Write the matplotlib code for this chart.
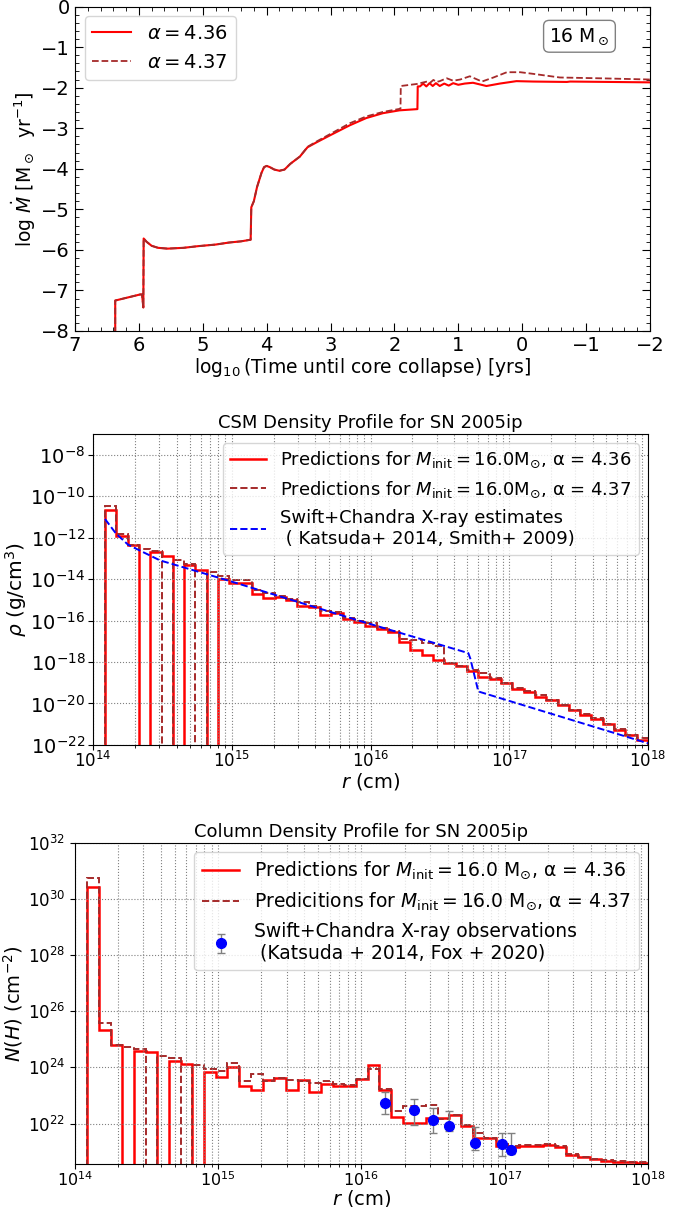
import numpy as np
import matplotlib.pyplot as plt
from matplotlib.ticker import MultipleLocator, NullLocator

# mass-loss history: log10(time until core collapse / yr) vs log10(Mdot)
t_436 = [6.37, 6.37, 5.98, 5.95, 5.93, 5.925, 5.88, 5.80, 5.70, 5.55, 5.30, 5.08, 4.80,
         4.59, 4.40, 4.25, 4.24, 4.20, 4.15, 4.08, 4.04, 4.00, 3.95, 3.88, 3.80, 3.72,
         3.63, 3.48, 3.36, 3.22, 3.00, 2.70, 2.44, 2.18, 1.92, 1.64, 1.635, 1.60, 1.55,
         1.50, 1.45, 1.40, 1.35, 1.29, 1.22, 1.15, 1.08, 1.00, 0.90, 0.77, 0.56, 0.35,
         0.09, -0.17, -0.70, -0.75, -2.00]
mdot_436 = [-8.30, -7.25, -7.10, -7.10, -7.42, -5.72, -5.80, -5.90, -5.95, -5.97, -5.95,
            -5.91, -5.87, -5.82, -5.79, -5.75, -4.95, -4.80, -4.45, -4.10, -3.96, -3.93,
            -3.96, -4.02, -4.05, -4.02, -3.88, -3.70, -3.47, -3.35, -3.17, -2.93, -2.75,
            -2.63, -2.56, -2.53, -1.97, -1.97, -1.90, -1.97, -1.89, -1.96, -1.89, -1.96,
            -1.90, -1.95, -1.89, -1.93, -1.90, -1.88, -1.96, -1.90, -1.84, -1.85, -1.86,
            -1.85, -1.87]

t_437 = [6.37, 6.37, 5.98, 5.95, 5.93, 5.925, 5.88, 5.80, 5.70, 5.55, 5.30, 5.08, 4.80,
         4.59, 4.40, 4.25, 4.24, 4.20, 4.15, 4.08, 4.04, 4.00, 3.95, 3.88, 3.80, 3.72,
         3.63, 3.48, 3.36, 3.22, 3.00, 2.70, 2.44, 2.18, 1.905, 1.90, 1.65, 1.49, 1.44,
         1.39, 1.34, 1.29, 1.23, 1.18, 1.08, 0.97, 0.82, 0.63, 0.45, 0.24, 0.03, -0.17,
         -0.59, -1.22, -2.00]
mdot_437 = [-8.30, -7.25, -7.10, -7.10, -7.42, -5.72, -5.80, -5.90, -5.95, -5.97, -5.95,
            -5.91, -5.87, -5.82, -5.79, -5.75, -4.95, -4.80, -4.45, -4.10, -3.96, -3.93,
            -3.96, -4.02, -4.05, -4.02, -3.88, -3.70, -3.46, -3.33, -3.14, -2.88, -2.71,
            -2.60, -2.52, -1.96, -1.91, -1.85, -1.88, -1.81, -1.86, -1.84, -1.80, -1.77,
            -1.83, -1.80, -1.72, -1.85, -1.75, -1.62, -1.62, -1.66, -1.75, -1.77, -1.80]

# shell edges in radius (cm), 48 log-uniform shells
r_edges = np.logspace(np.log10(1.22e14), 18, 49)

# log10 density per shell (g/cm^3); nan marks an empty shell
logrho_436 = [-10.66, -11.94, -12.38, np.nan, -12.70, -12.91, np.nan, -13.31, -13.55, np.nan,
              -14.00, -14.19, -14.19, -14.73, -14.92, -14.87, -15.00, -15.32, -15.35, -15.73,
              -15.65, -15.94, -16.05, -16.26, -16.42, -16.56, -17.05, -17.40, -17.66, -17.88,
              -18.03, -18.19, -18.42, -18.72, -18.80, -19.03, -19.32, -19.44, -19.68, -19.84,
              -20.08, -20.32, -20.56, -20.73, -21.00, -21.29, -21.53, -21.74]
logrho_437 = [-10.50, -11.81, -12.35, -12.55, -12.66, np.nan, -13.07, -13.26, np.nan, -13.68,
              -13.87, -14.06, -14.03, -14.55, -14.68, -14.81, -14.97, -15.11, -15.32, -15.56,
              -15.61, -15.89, -16.02, -16.13, -16.37, -16.50, -16.90, -16.95, -17.10, -17.25,
              -18.03, -18.17, -18.40, -18.55, -18.78, -19.00, -19.27, -19.42, -19.60, -19.82,
              -20.05, -20.30, -20.52, -20.70, -20.97, -21.25, -21.50, -21.68]

# X-ray density estimate
logr_xray = [14.086, 14.165, 14.254, 14.483, 14.964, 15.924, 16.705, 16.72, 16.777, 18.0]
logrho_xray = [-11.10, -11.80, -12.35, -13.10, -14.05, -16.02, -17.57, -17.85, -19.42, -21.92]

# log10 column density per shell (cm^-2)
logNH_436 = [30.44, 25.32, 24.81, np.nan, 24.57, 24.54, np.nan, 24.24, 24.13, np.nan,
             23.82, 23.65, 24.00, 23.35, 23.20, 23.56, 23.64, 23.20, 23.54, 23.14,
             23.42, 23.32, 23.35, 23.58, 24.08, 23.18, 22.23, 22.01, 22.01, 22.19,
             22.19, 22.31, 21.92, 21.48, 21.48, 21.21, 21.18, 21.20, 21.21, 21.24,
             21.18, 20.88, 20.79, 20.73, 20.67, 20.64, 20.62, 20.61]
logNH_437 = [30.74, 25.60, 24.81, 24.71, 24.65, np.nan, 24.42, 24.33, np.nan, 24.07,
             23.95, 23.86, 24.15, 23.50, 23.77, 23.50, 23.62, 23.56, 23.50, 23.46,
             23.50, 23.42, 23.38, 23.58, 23.94, 23.23, 22.43, 22.61, 22.63, 22.67,
             22.15, 22.31, 21.95, 21.65, 21.50, 21.27, 21.21, 21.22, 21.23, 21.26,
             21.20, 20.90, 20.81, 20.75, 20.69, 20.66, 20.63, 20.62]

# observed column densities
logr_obs = [16.164, 16.369, 16.501, 16.611, 16.792, 16.983, 17.044]
logNH_obs = [22.73, 22.49, 22.11, 21.92, 21.32, 21.27, 21.04]
logNH_obs_lo = [22.35, 21.94, 21.68, 21.75, 21.04, 20.85, 20.90]
logNH_obs_hi = [23.11, 22.87, 22.54, 22.43, 21.89, 21.65, 21.65]


def shell_values(logs):
    logs = np.array(logs, dtype=float)
    return np.where(np.isnan(logs), 0.0, 10 ** np.nan_to_num(logs))


fig = plt.figure(figsize=(6.91, 12.07), dpi=100)

# ---------------- mass-loss rate ----------------
ax1 = fig.add_axes([0.1085, 0.7258, 0.8321, 0.2688])
ax1.plot(t_436, mdot_436, color='red', lw=1.5, label=r'$\alpha = 4.36$')
ax1.plot(t_437, mdot_437, color='brown', lw=1.3, ls='--', label=r'$\alpha = 4.37$')
ax1.set_xlim(7, -2)
ax1.set_ylim(-8, 0)
ax1.xaxis.set_minor_locator(MultipleLocator(0.2))
ax1.yaxis.set_minor_locator(MultipleLocator(0.2))
ax1.tick_params(which='both', direction='in', top=True, right=True, labelsize=14)
ax1.tick_params(which='major', length=6)
ax1.tick_params(which='minor', length=3)
ax1.set_xlabel(r'$\log_{10}$(Time until core collapse) [yrs]', fontsize=13.5, labelpad=1)
ax1.set_ylabel(r'$\log\,\dot{M}$ [M$_\odot$  yr$^{-1}$]', fontsize=13.5, labelpad=2)
ax1.legend(loc='upper left', fontsize=14)
ax1.text(0.93, 0.94, r'16 M$_\odot$', transform=ax1.transAxes, ha='right', va='top',
         fontsize=13.5, bbox=dict(boxstyle='round', fc='white', ec='grey'))

# ---------------- CSM density ----------------
ax2 = fig.add_axes([0.1346, 0.3828, 0.8032, 0.2577])
ax2.set_xscale('log')
ax2.set_yscale('log')
ax2.stairs(shell_values(logrho_436), r_edges, baseline=0, color='red', lw=1.8,
           label=r'Predictions for $M_{\rm init} = 16.0{\rm M}_{\odot}$, α = 4.36')
ax2.stairs(shell_values(logrho_437), r_edges, baseline=0, color='brown', lw=1.4, ls='--',
           label=r'Predictions for $M_{\rm init} = 16.0{\rm M}_{\odot}$, α = 4.37')
ax2.plot(10 ** np.array(logr_xray), 10 ** np.array(logrho_xray), color='blue', ls='--', lw=1.4,
         label='Swift+Chandra X-ray estimates\n ( Katsuda+ 2014, Smith+ 2009)')
ax2.set_xlim(1e14, 1e18)
ax2.set_ylim(1e-22, 1e-7)
ax2.set_yticks([10.0 ** p for p in range(-22, -7, 2)])
ax2.yaxis.set_minor_locator(NullLocator())
ax2.grid(True, which='both', axis='x', color='grey', ls=':', lw=0.8)
ax2.grid(True, which='major', axis='y', color='grey', ls=':', lw=0.8)
ax2.tick_params(axis='y', labelsize=14, pad=2)
ax2.tick_params(axis='x', labelsize=12, pad=1)
ax2.set_title('CSM Density Profile for SN 2005ip', fontsize=13, pad=4)
ax2.set_xlabel(r'$r$ (cm)', fontsize=14, labelpad=0)
ax2.set_ylabel(r'$\rho$ (g/cm$^3$)', fontsize=14.5, labelpad=1)
ax2.legend(loc='upper right', fontsize=13, handlelength=2.0)

# ---------------- column density ----------------
ax3 = fig.add_axes([0.1085, 0.0356, 0.8292, 0.266])
ax3.set_xscale('log')
ax3.set_yscale('log')
ax3.stairs(shell_values(logNH_436), r_edges, baseline=0, color='red', lw=1.8,
           label=r'Predictions for $M_{\rm init} = 16.0$ M$_{\odot}$, α = 4.36')
ax3.stairs(shell_values(logNH_437), r_edges, baseline=0, color='brown', lw=1.4, ls='--',
           label=r'Predicitions for $M_{\rm init} = 16.0$ M$_{\odot}$, α = 4.37')
nh = 10 ** np.array(logNH_obs)
nh_err = [nh - 10 ** np.array(logNH_obs_lo), 10 ** np.array(logNH_obs_hi) - nh]
ax3.errorbar(10 ** np.array(logr_obs), nh, yerr=nh_err, fmt='o', color='blue', ms=7,
             ecolor='grey', elinewidth=1.0, capsize=3,
             label='Swift+Chandra X-ray observations\n (Katsuda + 2014, Fox + 2020)')
ax3.set_xlim(1e14, 1e18)
ax3.set_ylim(3.6e20, 1e32)
ax3.set_yticks([10.0 ** p for p in range(22, 33, 2)])
ax3.yaxis.set_minor_locator(NullLocator())
ax3.grid(True, which='both', axis='x', color='grey', ls=':', lw=0.8)
ax3.grid(True, which='major', axis='y', color='grey', ls=':', lw=0.8)
ax3.tick_params(axis='y', labelsize=12)
ax3.tick_params(axis='x', labelsize=11.5, pad=1)
ax3.set_title('Column Density Profile for SN 2005ip', fontsize=13, pad=4)
ax3.set_xlabel(r'$r$ (cm)', fontsize=14, labelpad=-1)
ax3.set_ylabel(r'$N(H)$ (cm$^{-2}$)', fontsize=14, labelpad=2)
ax3.legend(loc='upper right', fontsize=13.5, handlelength=2.0)

fig.savefig('out.png', dpi=100)
